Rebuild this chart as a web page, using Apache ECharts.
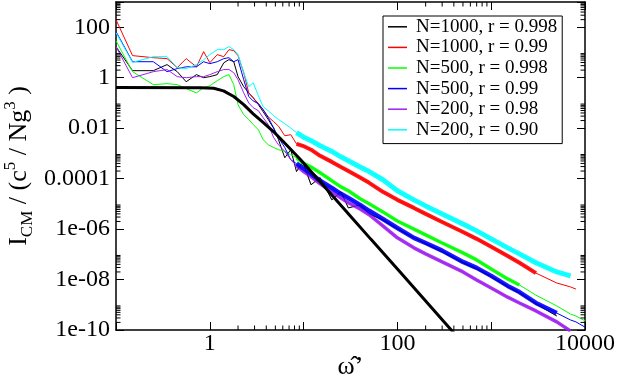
<!DOCTYPE html>
<html>
<head>
<meta charset="utf-8">
<script src="https://cdn.jsdelivr.net/npm/echarts@6/dist/echarts.min.js"></script>
<style>
  html, body { margin: 0; padding: 0; background: #fff; }
  #chart { width: 618px; height: 382px; }
</style>
</head>
<body>
<div id="chart"></div>
<script>
// frequency grid shared by the simulated spectra
const omega = [0.1, 0.15, 0.25, 0.35, 0.45, 0.56, 0.72, 0.86, 1.0, 1.2, 1.41, 1.6, 1.8, 2.0, 2.3, 2.6,
  2.9, 3.3, 3.7, 4.2, 4.8, 5.4, 6.3, 7.3, 8.4, 9.8, 12, 15, 20, 25, 30, 40, 50, 70, 100, 150, 200,
  300, 500, 700, 1000, 1500, 2000, 3000, 5000, 7000, 8000, 10000];

// spectra (one value per omega, curves stop where they stop in the plot)
const n1000r998 = [17, 1.9, 1.9, 3.3, 1.73, 0.69, 1.32, 1.0, 1.1, 1.32, 3.9, 5.2, 4.3, 1.1, 0.44, 0.25,
  0.16, 0.085, 0.045, 0.022, 0.010, 0.0035, 6.7e-4, 0.0014, 1.9e-4, 4.6e-4, 5.7e-5, 1.1e-4, 1.44e-5,
  3.0e-5, 6.9e-6, 9.1e-6, 4.0e-6, 2.3e-6, 1.0e-6, 4.5e-7, 2.6e-7, 1.24e-7, 4.6e-8, 2.6e-8, 1.27e-8,
  5.1e-9, 2.9e-9, 1.08e-9, 3.6e-10];
const n1000r99 = [200, 7.5, 6.2, 5.7, 2.5, 5.7, 2.7, 10.8, 3.9, 8.2, 6.8, 12.9, 11.8, 7.5, 1.58, 0.25,
  0.16, 0.093, 0.054, 0.028, 0.018, 0.012, 0.0050, 0.0055, 0.0024, 0.0020, 0.0014, 8.0e-4, 4.6e-4,
  2.9e-4, 2.0e-4, 1.1e-4, 6.8e-5, 3.0e-5, 1.44e-5, 6.9e-6, 4.0e-6, 1.9e-6, 7.7e-7, 4.1e-7, 2.0e-7,
  8.6e-8, 4.6e-8, 1.8e-8, 7.3e-9, 5.1e-9, 4.2e-9];
const n500r998 = [29, 1.73, 0.53, 0.58, 0.53, 0.37, 0.25, 0.40, 0.48, 0.76, 1.1, 1.32, 0.53, 0.085,
  0.034, 0.022, 0.014, 0.0086, 0.0035, 0.0022, 0.0017, 0.0014, 0.0012, 8.8e-4, 6.7e-4, 4.2e-4, 2.9e-4,
  1.7e-4, 8.2e-5, 4.7e-5, 3.3e-5, 1.6e-5, 1.0e-5, 4.8e-6, 2.1e-6, 1.0e-6, 5.9e-7, 2.8e-7, 1.14e-7,
  6.0e-8, 2.6e-8, 1.06e-8, 6.1e-9, 2.4e-9, 9.0e-10, 4.3e-10, 3.6e-10, 2.3e-10];
const n500r99 = [67, 4.3, 4.3, 1.73, 2.3, 2.7, 2.7, 4.3, 3.6, 4.3, 5.7, 6.2, 4.3, 5.2, 0.83, 0.18,
  0.12, 0.093, 0.054, 0.026, 0.010, 0.0042, 0.0017, 5.6e-4, 3.9e-4, 2.7e-4, 1.55e-4, 8.2e-5, 4.3e-5,
  2.5e-5, 1.7e-5, 9.1e-6, 5.3e-6, 2.5e-6, 1.1e-6, 4.5e-7, 2.8e-7, 1.4e-7, 5.0e-8, 2.9e-8, 1.4e-8,
  5.6e-9, 3.2e-9, 1.18e-9, 4.7e-10, 2.5e-10, 2.1e-10, 1.3e-10];
const n200r98 = [17, 1.0, 1.73, 2.1, 1.1, 1.0, 1.1, 1.1, 1.32, 1.73, 2.1, 2.1, 1.58, 0.83, 0.25, 0.10,
  0.065, 0.049, 0.026, 0.014, 0.0042, 0.0022, 0.0012, 5.6e-4, 3.2e-4, 2.0e-4, 1.2e-4, 6.2e-5, 3.0e-5,
  1.7e-5, 1.1e-5, 6.3e-6, 3.7e-6, 1.34e-6, 4.5e-7, 1.8e-7, 1.04e-7, 5.0e-8, 2.0e-8, 9.6e-9, 4.6e-9,
  2.0e-9, 1.18e-9, 5.7e-10, 2.1e-10, 9.2e-11];
const n200r90 = [61, 4.05, 6.8, 6.8, 2.5, 2.3, 3.3, 5.2, 8.2, 12.9, 12.9, 17, 12.9, 8.2, 1.58, 0.44,
  0.63, 0.19, 0.071, 0.049, 0.031, 0.022, 0.015, 0.010, 0.0066, 0.0046, 0.0032, 0.0020, 0.0012,
  7.3e-4, 5.1e-4, 2.9e-4, 1.9e-4, 9.0e-5, 3.3e-5, 1.44e-5, 8.3e-6, 4.0e-6, 1.6e-6, 8.5e-7, 4.1e-7,
  1.8e-7, 1.04e-7, 4.6e-8, 2.0e-8, 1.4e-8];

// smooth theory curve (thick black)
const theoryOmega = [0.1, 0.8, 1.1, 1.4, 1.8, 2.3, 2.9, 3.7, 4.8, 6.1, 9.3, 16, 32, 52, 108, 371, 500];
const theoryI = [0.41, 0.40, 0.38, 0.30, 0.18, 0.085, 0.037, 0.017, 0.0072, 0.0029, 5.6e-4, 5.7e-5,
  3.1e-6, 4.0e-7, 1.9e-8, 1.05e-10, 3e-11];

const legendNames = ['N=1000, r = 0.998', 'N=1000, r = 0.99', 'N=500, r = 0.998',
  'N=500, r = 0.99', 'N=200, r = 0.98', 'N=200, r = 0.90'];

// tick labels
const xMajorTicks = [1, 100, 10000];
const xLabels = ['1', '100', '10000'];
const yMajorTicks = [1e-10, 1e-8, 1e-6, 1e-4, 1e-2, 1, 100];
const yLabels = ['1e-10', '1e-08', '1e-06', '0.0001', '0.01', '1', '100'];
const minorSteps = [2, 3, 4, 5, 6, 7, 8, 9];

const X_MIN = 0.1, X_MAX = 10000, Y_MIN = 1e-10, Y_MAX = 1000;
const FONT = "'Liberation Serif', 'Times New Roman', serif";

const pairs = (xs, ys) => ys.map((v, i) => [xs[i], v]);

const curves = [
  { name: legendNames[0], vals: n1000r998, color: '#000000', band: 1, bandOpacity: 0.3, bandEnd: 44 },
  { name: legendNames[1], vals: n1000r99, color: '#ff0000', band: 4, bandEnd: 43 },
  { name: legendNames[2], vals: n500r998, color: '#00ff00', band: 3.5, bandEnd: 42 },
  { name: legendNames[3], vals: n500r99, color: '#0000ff', band: 4.5, bandEnd: 44 },
  { name: legendNames[4], vals: n200r98, color: '#a020f0', band: 3.5, bandEnd: 45 },
  { name: legendNames[5], vals: n200r90, color: '#00ffff', band: 5, bandEnd: 45 }
];

const series = [];
curves.forEach(c => {
  series.push({
    name: c.name, type: 'line', data: pairs(omega, c.vals), symbol: 'none',
    lineStyle: { color: c.color, width: 1 }, itemStyle: { color: c.color }, z: 2
  });
});
// noisy high-frequency part drawn as a band
const bandOrder = [4, 3, 0, 2, 1, 5];
bandOrder.forEach(k => {
  const c = curves[k];
  const d = pairs(omega, c.vals).slice(24, c.bandEnd + 1);
  series.push({
    name: 'band ' + c.name, type: 'line', data: d, symbol: 'none',
    lineStyle: { color: c.color, width: c.band, opacity: c.bandOpacity || 0.9 }, z: 3
  });
});
series.push({
  name: 'theory', type: 'line', data: pairs(theoryOmega, theoryI), symbol: 'none',
  lineStyle: { color: '#000', width: 3 }, z: 4
});

function labelFor(ticks, labels) {
  return v => {
    const i = ticks.findIndex(t => Math.abs(Math.log10(t) - Math.log10(v)) < 1e-6);
    return i >= 0 ? labels[i] : '';
  };
}

const axisLine = { show: true, onZero: false, lineStyle: { color: '#000', width: 1.5 } };
const tick = { show: true, inside: true, length: 8, lineStyle: { color: '#000', width: 1 } };

const chart = echarts.init(document.getElementById('chart'));
chart.setOption({
  animation: false,
  backgroundColor: '#fff',
  grid: { left: 116, right: 33, top: 2, bottom: 52, outerBoundsMode: 'none', containLabel: false },
  legend: {
    data: legendNames, orient: 'vertical', left: 383, top: 16, padding: [1, 5, 4, 5],
    icon: 'rect', itemWidth: 19, itemHeight: 1.5, itemGap: 1,
    borderColor: '#000', borderWidth: 1, backgroundColor: '#fff',
    textStyle: { fontFamily: FONT, fontSize: 19, color: '#000', lineHeight: 19.6, padding: [0, 0, 0, 4] }
  },
  xAxis: [{
    type: 'log', min: X_MIN, max: X_MAX,
    name: 'ω̂’', nameLocation: 'middle', nameGap: 24, nameMoveOverlap: false,
    nameTextStyle: { fontFamily: FONT, fontSize: 26, color: '#000' },
    axisLine: axisLine, axisTick: tick, splitLine: { show: false },
    axisLabel: { fontFamily: FONT, fontSize: 24, color: '#000', margin: 2,
      formatter: labelFor(xMajorTicks, xLabels) }
  }, {
    type: 'log', min: X_MIN, max: X_MAX, position: 'top',
    axisLine: axisLine, axisTick: tick, splitLine: { show: false }, axisLabel: { show: false }
  }],
  yAxis: [{
    type: 'log', min: Y_MIN, max: Y_MAX, interval: 2,
    name: '{b|I}{sub|CM}{b| / (c}{sup|5}{b| / Ng}{sup|3}{b| )}',
    nameLocation: 'middle', nameGap: 80, nameRotate: 90, nameMoveOverlap: false,
    nameTextStyle: {
      fontFamily: FONT, color: '#000',
      rich: {
        b: { fontFamily: FONT, fontSize: 26, lineHeight: 34, color: '#000' },
        sub: { fontFamily: FONT, fontSize: 17, lineHeight: 17, verticalAlign: 'bottom', color: '#000' },
        sup: { fontFamily: FONT, fontSize: 17, lineHeight: 17, verticalAlign: 'top', color: '#000' }
      }
    },
    axisLine: axisLine, axisTick: tick, splitLine: { show: false },
    axisLabel: { fontFamily: FONT, fontSize: 24, color: '#000', margin: 6,
      formatter: labelFor(yMajorTicks, yLabels) }
  }, {
    type: 'log', min: Y_MIN, max: Y_MAX, interval: 2, position: 'right',
    axisLine: axisLine, axisTick: tick, splitLine: { show: false }, axisLabel: { show: false }
  }],
  series: series
});

// minor ticks (2..9 times each labelled decade): short segments whose inner
// ends come from the axes' own scales
try {
  const F = { xAxisIndex: 0, yAxisIndex: 0 };
  const seg = [];
  const len = 4.5;
  xMajorTicks.forEach(m => minorSteps.forEach(s => {
    const v = m * s;
    if (v >= X_MAX) return;
    const b = chart.convertToPixel(F, [v, Y_MIN]);
    const t = chart.convertToPixel(F, [v, Y_MAX]);
    seg.push([[v, Y_MIN], [v, chart.convertFromPixel(F, [b[0], b[1] - len])[1]]]);
    seg.push([[v, Y_MAX], [v, chart.convertFromPixel(F, [t[0], t[1] + len])[1]]]);
  }));
  yMajorTicks.forEach(m => minorSteps.forEach(s => {
    const v = m * s;
    if (v >= Y_MAX) return;
    const l = chart.convertToPixel(F, [X_MIN, v]);
    const r = chart.convertToPixel(F, [X_MAX, v]);
    seg.push([[X_MIN, v], [chart.convertFromPixel(F, [l[0] + len, l[1]])[0], v]]);
    seg.push([[X_MAX, v], [chart.convertFromPixel(F, [r[0] - len, r[1]])[0], v]]);
  }));
  const more = seg.map(s => ({
    type: 'line', data: s, symbol: 'none', silent: true, z: 10, clip: false,
    lineStyle: { color: '#000', width: 1 }
  }));
  chart.setOption({ series: series.concat(more) });
} catch (e) {
  console.error(e);
}
</script>
</body>
</html>
